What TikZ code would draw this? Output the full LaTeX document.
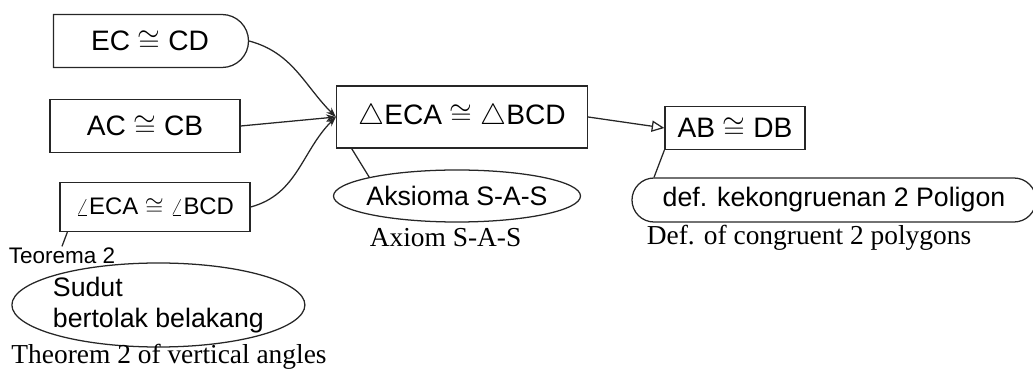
\documentclass[tikz,border=0pt]{standalone}
\usepackage{fontspec}
\setmainfont{Liberation Serif}
\newfontfamily\handfont{Liberation Sans}
\usetikzlibrary{arrows.meta,shapes.misc,shapes.geometric}

\begin{document}
\begin{tikzpicture}[
  pen/.style={draw=black!85, line width=0.9pt},
  stmt/.style={pen, rectangle, inner sep=0pt, font=\handfont\fontsize{20}{24}\selectfont},
  reason/.style={pen, ellipse, inner sep=0pt, font=\handfont\fontsize{19}{22}\selectfont},
  caption/.style={font=\fontsize{19.5}{23}\selectfont},
  link/.style={pen, -{Stealth[length=7pt,width=5pt]}},
  infer/.style={pen, -{Triangle[open,length=9pt,width=8pt]}}
]

\def\width{25.825}
\def\height{9.275}

\path [use as bounding box] (0,0) rectangle (\width,-\height);

% GIVEN
\node [stmt, rounded rectangle, rounded rectangle left arc=none,
  minimum width=4.875cm, minimum height=1.325cm] (bc) at (3.75,-1.025) {EC $\cong$ CD};
\node [stmt, minimum width=4.75cm, minimum height=1.325cm] (ac) at (3.625,-3.15) {AC $\cong$ CB};
\node [stmt, minimum width=4.75cm, minimum height=1.225cm,
  font=\handfont\fontsize{17}{20}\selectfont] (ang) at (3.875,-5.175) {$\angle$ECA $\cong$ $\angle$BCD};

% CONCLUSIONS
\node [stmt, minimum width=6.275cm, minimum height=1.55cm] (seg) at (11.55,-2.925) {$\triangle$ECA $\cong$ $\triangle$BCD};
\node [stmt, minimum width=3.5cm, minimum height=1.075cm] (ab) at (18.375,-3.2) {AB $\cong$ DB};

% REASONS
\node [reason, minimum width=6.175cm, minimum height=1.3cm, inner xsep=-0.55cm] (sas) at (11.425,-4.9) {Aksioma S-A-S};
\node [reason, rounded rectangle, minimum width=10.1cm, minimum height=1.1cm] (def) at (20.85,-5.0) {def. kekongruenan 2 Poligon};
\node [reason, minimum width=7.325cm, minimum height=2.1cm, inner sep=-0.1cm, align=left] (vert) at (3.96,-7.625) {Sudut\\bertolak belakang};
\node [font=\handfont\fontsize{16}{19}\selectfont, inner sep=1pt] (thm) at (1.55,-6.4) {Teorema 2};

% CAPTIONS
\node [caption] (capvert) at (4.225,-8.92) {Theorem 2 of vertical angles};
\node [caption] (capsas) at (11.14,-5.95) {Axiom S-A-S};
\node [caption] (capdef) at (20.225,-5.95) {Def. of congruent 2 polygons};

% LINKS
\draw [link] (bc.east) to[out=-15, in=135] (seg.west);
\draw [link] (ac.east) -- (seg.west);
\draw [link] (ang.east) to[out=15, in=-135] (seg.west);
\draw [infer] (seg.east) -- (ab.west);

\draw [pen] (seg.-164) -- (sas.north west);
\draw [pen] (ab.south west) -- (def.north west);
\draw [pen] (ang.-164) -- (thm.north);

\end{tikzpicture}
\end{document}
